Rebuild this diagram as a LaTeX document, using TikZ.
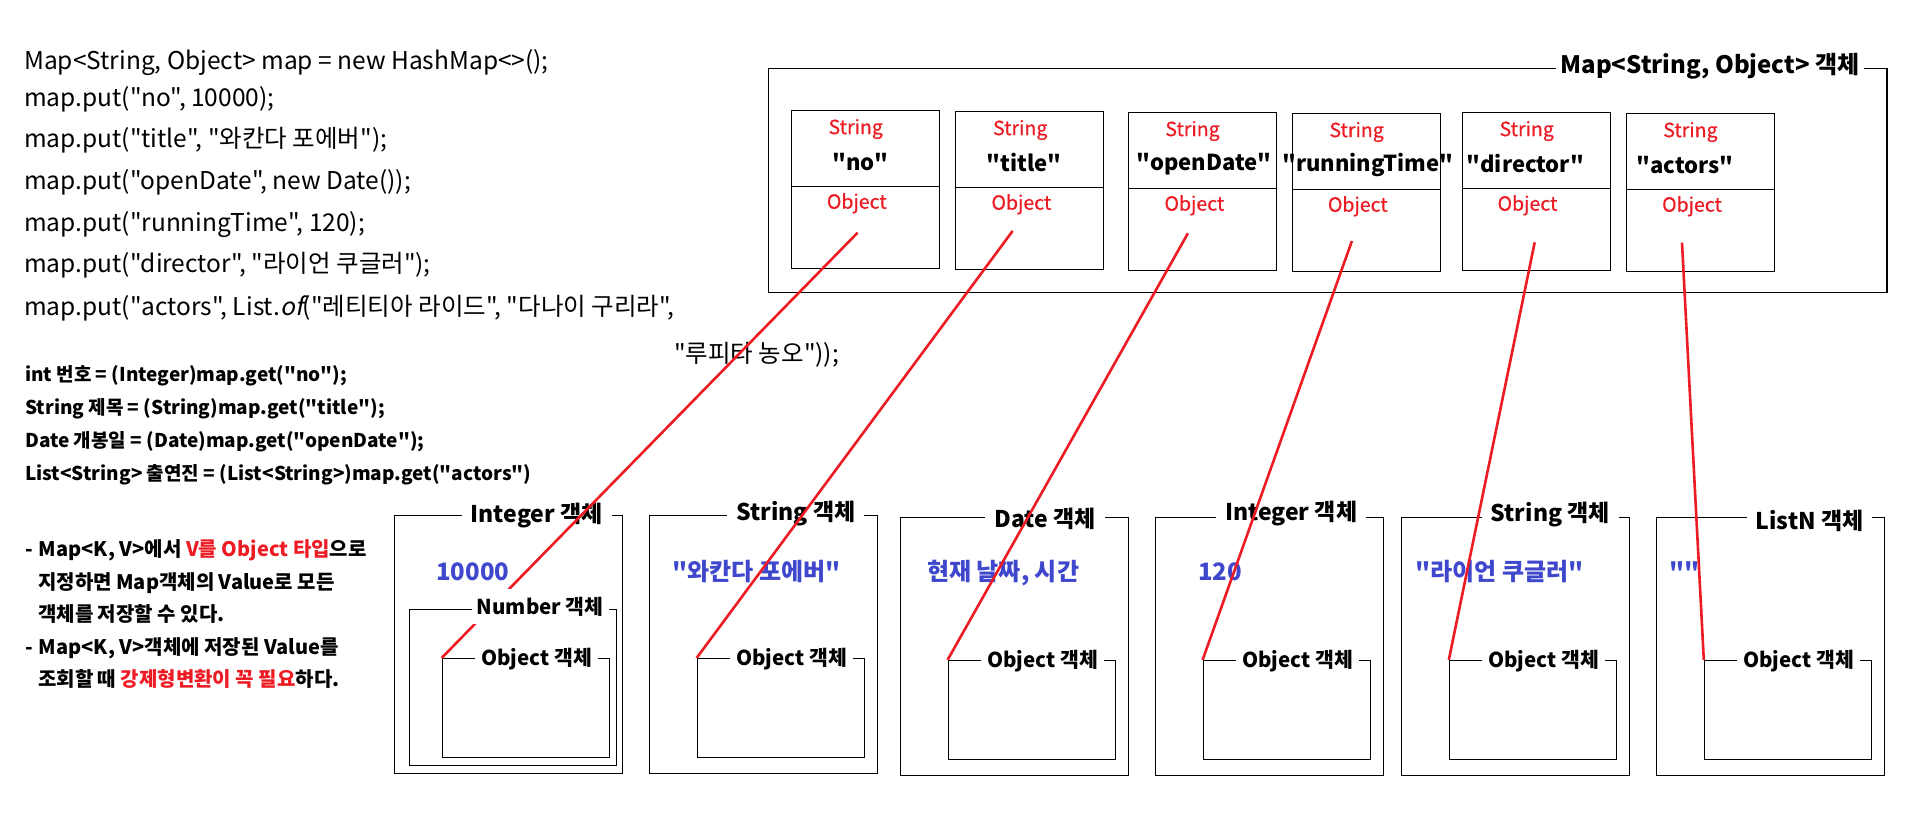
\documentclass[tikz,border=0pt]{standalone}
\usepackage{fontspec}
\setmainfont{Noto Sans CJK KR}[Ligatures=TeXOff]
\newfontfamily\slantfont{Noto Sans CJK KR}[Ligatures=TeXOff,FakeSlant=0.2]
\newfontfamily\typefont{Noto Sans CJK KR}[Ligatures=TeXOff,FakeBold=0.6]
\definecolor{keyred}{RGB}{237,28,36}
\definecolor{valblue}{RGB}{63,72,204}

\begin{document}
\begin{tikzpicture}[x=1pt,y=-1pt]
\tikzstyle{code}=[anchor=base west,inner sep=0pt,font=\fontsize{24.5}{28}\selectfont]
\tikzstyle{cast}=[anchor=base west,inner sep=0pt,font=\bfseries\fontsize{19}{23}\selectfont]
\tikzstyle{note}=[anchor=base west,inner sep=0pt,font=\bfseries\fontsize{20}{24}\selectfont]
\tikzstyle{frame}=[draw=black,line width=1.4pt,inner sep=0pt]
\tikzstyle{keybox}=[frame,minimum width=148pt,minimum height=158pt]
\tikzstyle{objbox}=[frame,minimum width=228pt,minimum height=257.6pt]
\tikzstyle{basebox}=[frame,minimum width=167pt,minimum height=98.6pt]
\tikzstyle{title}=[fill=white,inner xsep=9pt,inner ysep=1pt,font=\bfseries\fontsize{23}{27}\selectfont]
\tikzstyle{basetitle}=[fill=white,inner xsep=6pt,inner ysep=1pt,font=\bfseries\fontsize{20.5}{24}\selectfont]
\tikzstyle{typename}=[text=keyred,font=\typefont\fontsize{19.5}{22}\selectfont]
\tikzstyle{keyname}=[font=\bfseries\fontsize{22}{26}\selectfont]
\tikzstyle{value}=[anchor=base west,inner sep=0pt,text=valblue,font=\bfseries\fontsize{24}{28}\selectfont]
\tikzstyle{link}=[draw=keyred,line width=2.6pt]
\fill[white] (0,0) rectangle (1906,838);
\useasboundingbox (0,0) rectangle (1906,838);
% code on the left
\node[code] (c1) at (24,69) {Map<String, Object> map = new HashMap<>();};
\node[code] (c2) at (24,106) {map.put("no", 10000);};
\node[code] (c3) at (24,147) {map.put("title", "와칸다 포에버");};
\node[code] (c4) at (24,189) {map.put("openDate", new Date());};
\node[code] (c5) at (24,231) {map.put("runningTime", 120);};
\node[code] (c6) at (24,272) {map.put("director", "라이언 쿠글러");};
\node[code] (c7) at (24,315) {map.put("actors", List.{\slantfont of}("레티티아 라이드", "다나이 구리라",};
\node[code] (c8) at (674,362) {"루피타 농오"));};
\node[cast] (g1) at (25,381.7) {int 번호 = (Integer)map.get("no");};
\node[cast] (g2) at (25,414.5) {String 제목 = (String)map.get("title");};
\node[cast] (g3) at (25,447.3) {Date 개봉일 = (Date)map.get("openDate");};
\node[cast] (g4) at (25,480) {List<String> 출연진 = (List<String>)map.get("actors")};
\node[note] (n1) at (25,556.7) {-\hspace{6pt}Map<K, V>에서 \textcolor{keyred}{V를 Object 타입}으로};
\node[note] (n2) at (38,589.3) {지정하면 Map객체의 Value로 모든};
\node[note] (n3) at (38,621.5) {객체를 저장할 수 있다.};
\node[note] (n4) at (25,654.3) {-\hspace{6pt}Map<K, V>객체에 저장된 Value를};
\node[note] (n5) at (38,686.5) {조회할 때 \textcolor{keyred}{강제형변환이 꼭 필요}하다.};
% map object
\node[frame,minimum width=1118.4pt,minimum height=224pt] (map) at (1327.6,180.3) {};
\node[title,inner xsep=5pt,font=\bfseries\fontsize{24}{28}\selectfont] (mapt) at (1710,66.5) {Map<String, Object> 객체};
\node[keybox] (k1) at (865.5,189.3) {};
\node[keybox] (k2) at (1029.5,190.3) {};
\node[keybox] (k3) at (1202.4,191.3) {};
\node[keybox] (k4) at (1366.5,192.2) {};
\node[keybox] (k5) at (1536.5,191.3) {};
\node[keybox] (k6) at (1700.4,192.2) {};
\foreach \k in {k1,k2,k3,k4,k5,k6}
  \draw[line width=1.4pt] ([yshift=-77pt]\k.north west) -- ([yshift=-77pt]\k.north east);
\node[typename] (s1) at (855.7,129) {String};
\node[typename] (s2) at (1020.2,130) {String};
\node[typename] (s3) at (1192.5,131) {String};
\node[typename] (s4) at (1356.6,132) {String};
\node[typename] (s5) at (1526.7,131) {String};
\node[typename] (s6) at (1690.4,132) {String};
\node[keyname] (m1) at (860.3,161.7) {"no"};
\node[keyname] (m2) at (1024,162.7) {"title"};
\node[keyname] (m3) at (1204,163.7) {"openDate"};
\node[keyname] (m4) at (1367.8,164.7) {"runningTime"};
\node[keyname] (m5) at (1525.5,163.7) {"director"};
\node[keyname] (m6) at (1685.2,164.7) {"actors"};
\node[typename] (t1) at (856.8,203.3) {Object};
\node[typename] (t2) at (1021.4,204.3) {Object};
\node[typename] (t3) at (1194.4,205.3) {Object};
\node[typename] (t4) at (1357.8,206.3) {Object};
\node[typename] (t5) at (1527.5,205.3) {Object};
\node[typename] (t6) at (1692,206.3) {Object};
% value objects
\node[objbox] (b1) at (508.3,644.5) {};
\node[objbox] (b2) at (763.3,644.5) {};
\node[objbox] (b3) at (1014.3,646.5) {};
\node[objbox] (b4) at (1269.3,646.5) {};
\node[objbox] (b5) at (1515.3,646.5) {};
\node[objbox] (b6) at (1770.3,646.5) {};
\node[title] (bt1) at (536.7,516) {Integer 객체};
\node[title] (bt2) at (795.8,514) {String 객체};
\node[title] (bt3) at (1045,518.5) {Date 객체};
\node[title] (bt4) at (1291.2,514) {Integer 객체};
\node[title] (bt5) at (1550.3,514.5) {String 객체};
\node[title] (bt6) at (1809.5,520.5) {ListN 객체};
\node[value] (v1) at (436,580) {10000};
\node[value] (v2) at (672,580) {"와칸다 포에버"};
\node[value] (v3) at (927,580) {현재 날짜, 시간};
\node[value] (v4) at (1198,580) {120};
\node[value] (v5) at (1415,580) {"라이언 쿠글러"};
\node[value] (v6) at (1669,580) {""};
\node[basebox] (o1) at (525.8,708) {};
\node[basebox] (o2) at (780.8,708) {};
\node[basebox] (o3) at (1031.8,709.9) {};
\node[basebox] (o4) at (1286.8,709.9) {};
\node[basebox] (o5) at (1533,709.9) {};
\node[basebox] (o6) at (1788,709.9) {};
\node[basetitle] (ot1) at (536.7,658.7) {Object 객체};
\node[basetitle] (ot2) at (791.5,658.7) {Object 객체};
\node[basetitle] (ot3) at (1042.5,660.7) {Object 객체};
\node[basetitle] (ot4) at (1297.5,660.7) {Object 객체};
\node[basetitle] (ot5) at (1543.5,660.7) {Object 객체};
\node[basetitle] (ot6) at (1798.5,660.7) {Object 객체};
% references from the map entries
\coordinate (r1) at (857.6,232.7);
\coordinate (r2) at (1012.6,231);
\coordinate (r3) at (1187.9,233.3);
\coordinate (r4) at (1351.9,241);
\coordinate (r5) at (1534.7,242.3);
\coordinate (r6) at (1682,242.7);
\draw[link] (r1) -- (o1.north west);
\draw[link] (r2) -- (o2.north west);
\draw[link] (r3) -- (o3.north west);
\draw[link] (r4) -- (o4.north west);
\draw[link] (r5) -- (o5.north west);
\draw[link] (r6) -- (o6.north west);
% number object lies over the first reference
\node[frame,minimum width=207.4pt,minimum height=156pt] (num) at (513,687.3) {};
\node[basetitle,inner xsep=5pt,inner ysep=8pt] (numt) at (540.2,606.7) {Number 객체};
\end{tikzpicture}
\end{document}
